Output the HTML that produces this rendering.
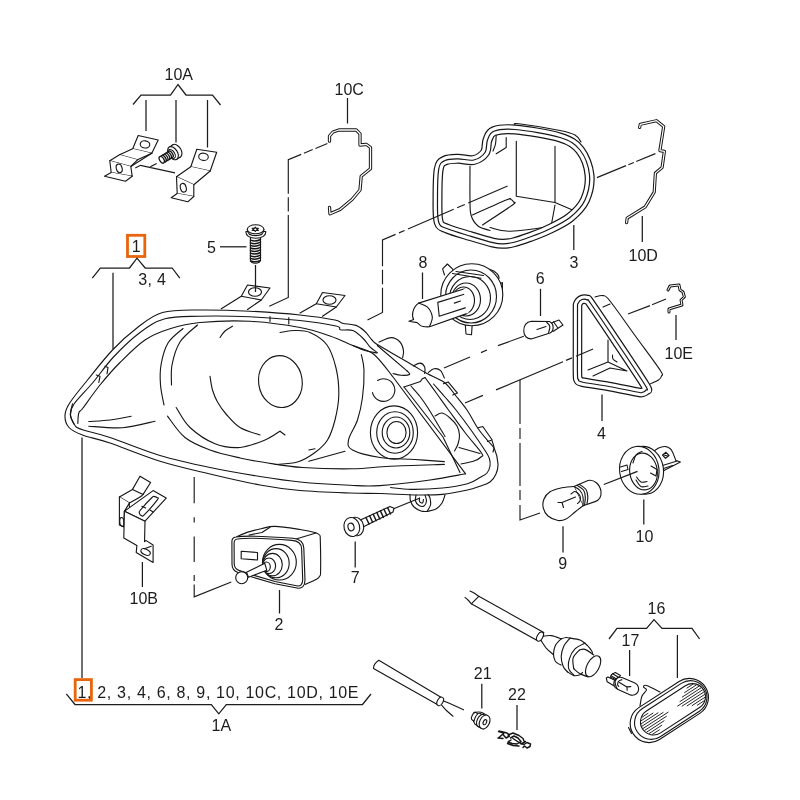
<!DOCTYPE html>
<html><head><meta charset="utf-8"><title>Headlight parts diagram</title>
<style>
html,body{margin:0;padding:0;background:#fff;}
body{width:800px;height:800px;overflow:hidden;}
svg{display:block;will-change:transform;}
text{font-family:"Liberation Sans",sans-serif;font-size:16px;fill:#1c1c1c;}
.p{fill:none;stroke:#161616;stroke-width:1.12;stroke-linecap:round;stroke-linejoin:round;}
.w{fill:#fff;stroke:#161616;stroke-width:1.12;stroke-linecap:round;stroke-linejoin:round;}
.l{fill:none;stroke:#1c1c1c;stroke-width:1.25;stroke-linecap:butt;stroke-linejoin:miter;}
.a{fill:none;stroke:#1c1c1c;stroke-width:1.15;}
.o{fill:none;stroke:#e8650d;stroke-width:2.8;}
</style></head><body>
<svg width="800" height="800" viewBox="0 0 800 800">
<rect width="800" height="800" fill="#fff"/>

<!-- LABELS -->
<g id="labels" style="opacity:0.999">
<text x="164.5" y="79.7">10A</text>
<text x="334.5" y="95.2">10C</text>
<text x="569.5" y="268">3</text>
<text x="628.5" y="261">10D</text>
<text x="664.5" y="358.5">10E</text>
<text x="418.5" y="267.8">8</text>
<text x="535.8" y="283.8">6</text>
<text x="597" y="439">4</text>
<text x="207" y="252.6">5</text>
<text x="131.7" y="252.3">1</text>
<text x="138.3" y="284.6" textLength="27.6" lengthAdjust="spacing">3, 4</text>
<text x="129.5" y="604.2">10B</text>
<text x="274.5" y="630">2</text>
<text x="350.8" y="583.2">7</text>
<text x="558.3" y="568.8">9</text>
<text x="635.5" y="541.8">10</text>
<text x="647.5" y="613.8">16</text>
<text x="621.5" y="646.2">17</text>
<text x="473.8" y="678.8">21</text>
<text x="508" y="699.6">22</text>
<text x="211.5" y="731.4">1A</text>
<text x="77.5" y="697.6" textLength="281" lengthAdjust="spacing">1, 2, 3, 4, 6, 8, 9, 10, 10C, 10D, 10E</text>
</g>

<!-- ORANGE BOXES -->
<rect class="o" x="127.5" y="235.3" width="17.3" height="21.2"/>
<rect class="o" x="75.2" y="679.6" width="16.2" height="20.6"/>

<!-- LEADERS & BRACES -->
<g id="leaders" class="l">
<path d="M133,104.5 L141,95 H170.5 L178,84.5 L186,95 H212.5 L220.5,105"/>
<path d="M146,100 V131 M176,100 V142.5 M207.5,100 V147.5"/>
<path d="M347.5,98 V123.5"/>
<path d="M573.8,225 V250"/>
<path d="M642.3,216 V242"/>
<path d="M676,315 V340"/>
<path d="M422.5,272.5 V299"/>
<path d="M540.5,288.8 V316"/>
<path d="M602,394.5 V421"/>
<path d="M220,246.8 H246.5"/>
<path d="M255.5,265 V292"/>
<path d="M92.3,278.2 L100.3,268 H129.5 L137,258.2 L145.2,268 H172.2 L179.8,278.2"/>
<path d="M113,272.8 V349"/>
<path d="M82,437.5 V678"/>
<path d="M142.4,562 V587"/>
<path d="M279.5,590 V613.5"/>
<path d="M355.2,541.6 V567.6"/>
<path d="M563,526.3 V552.5"/>
<path d="M643.8,499.5 V524.5"/>
<path d="M609,639 L617,628.4 H646.6 L654,619.6 L662,628.4 H692 L699.6,639"/>
<path d="M677.4,635 V678"/>
<path d="M629.6,650 V676"/>
<path d="M481.8,683.8 V708.5"/>
<path d="M517,705 V730"/>
<path d="M66.3,693.8 L75,704.5 H211.3 L218.8,713.8 L226.3,704.5 H362.5 L371,694"/>
<path d="M393,509 L420,498"/>
</g>

<!-- PARTS -->
<g id="parts">
<!-- headlight -->
<path class="w" d="M65.0,415.0 C65.2,410.8 66.2,408.3 70.0,402.5 C73.8,396.7 80.4,388.8 87.5,380.0 C94.6,371.2 104.2,358.8 112.5,350.0 C120.8,341.2 129.2,333.8 137.5,327.5 C145.8,321.2 152.1,315.4 162.5,312.5 C172.9,309.6 185.4,310.2 200.0,310.0 C214.6,309.8 233.3,310.4 250.0,311.2 C266.7,312.1 285.8,313.5 300.0,315.0 C314.2,316.5 327.9,318.6 335.0,320.0 C342.1,321.4 339.0,322.3 342.5,323.2 C346.0,324.1 352.2,324.0 356.0,325.4 C359.8,326.8 362.3,329.1 365.0,331.5 C367.7,333.9 369.7,337.7 372.0,340.0 C374.3,342.3 372.3,341.4 379.0,345.5 C385.7,349.6 404.0,360.1 412.0,364.8 C420.0,369.4 421.6,370.5 427.0,373.5 C432.4,376.5 439.6,378.8 444.4,382.5 C449.2,386.2 452.2,391.4 456.0,396.0 C459.8,400.6 463.3,404.6 467.0,410.0 C470.7,415.4 474.5,423.3 478.0,428.5 C481.5,433.7 485.2,437.6 488.0,441.0 C490.8,444.4 492.8,445.2 494.5,449.0 C496.2,452.8 497.8,459.8 498.0,464.0 C498.2,468.2 497.3,471.0 496.0,474.0 C494.7,477.0 492.7,480.0 490.0,482.0 C487.3,484.0 483.8,484.9 480.0,486.2 C476.2,487.5 473.8,488.6 467.5,490.0 C461.2,491.4 450.8,493.6 442.5,494.4 C434.2,495.2 427.9,495.1 417.5,495.0 C407.1,494.9 391.2,493.8 380.0,493.5 C368.8,493.2 363.3,493.5 350.0,493.0 C336.7,492.5 315.0,491.8 300.0,490.5 C285.0,489.2 275.0,487.8 260.0,485.0 C245.0,482.2 226.7,478.0 210.0,474.0 C193.3,470.0 176.7,466.4 160.0,461.2 C143.3,456.1 122.9,447.4 110.0,443.0 C97.1,438.6 89.3,437.6 82.5,435.0 C75.7,432.4 71.9,430.8 69.0,427.5 C66.1,424.2 64.8,419.2 65.0,415.0Z"/>
<path class="p" d="M73.8,423.5 C73.2,422.1 70.5,418.2 70.5,415.0 C70.5,411.8 70.3,409.3 74.0,404.0 C77.7,398.7 85.9,390.8 92.5,383.0 C99.1,375.2 105.6,365.4 113.5,357.0 C121.4,348.6 131.4,338.9 140.0,332.5 C148.6,326.1 155.0,321.5 165.0,318.8 C175.0,316.0 185.8,316.6 200.0,316.2 C214.2,315.9 233.3,316.1 250.0,316.8 C266.7,317.5 285.7,319.0 300.0,320.5 C314.3,322.0 329.2,324.5 336.0,326.0 C342.8,327.5 337.7,329.0 340.5,329.8 C343.3,330.5 349.0,329.1 352.8,330.6 C356.5,332.1 360.3,335.7 363.2,338.5 C366.2,341.3 367.9,344.9 370.2,347.2 C372.6,349.6 376.1,351.6 377.2,352.5"/>
<path class="p" d="M73.8,423.5 C74.3,424.2 75.1,426.3 77.0,427.5 C78.9,428.7 79.5,428.8 85.0,430.5 C90.5,432.2 97.5,433.3 110.0,437.5 C122.5,441.7 143.3,450.5 160.0,455.5 C176.7,460.5 193.3,464.0 210.0,467.5 C226.7,471.0 245.0,474.1 260.0,476.5 C275.0,478.9 285.0,480.5 300.0,482.0 C315.0,483.5 336.7,484.7 350.0,485.3 C363.3,485.9 366.7,486.5 380.0,485.6 C393.3,484.7 415.7,482.0 430.0,480.0 C444.3,478.0 459.7,474.8 465.6,473.8"/>
<path class="p" d="M390.6,487.5 C394.0,487.8 402.4,489.3 411.0,489.4 C419.6,489.5 433.1,488.9 442.5,488.0 C451.9,487.1 461.2,485.5 467.5,483.8 C473.8,482.0 476.8,479.3 480.0,477.5 C483.2,475.7 485.3,474.9 487.0,473.0 C488.7,471.1 489.6,468.3 490.0,466.0 C490.4,463.7 490.2,461.3 489.5,459.0 C488.8,456.7 489.1,456.8 486.0,452.0 C482.9,447.2 476.0,437.0 471.0,430.0 C466.0,423.0 460.4,415.6 456.0,410.0 C451.6,404.4 448.2,400.8 444.5,396.5 C440.8,392.2 435.3,386.1 433.5,384.0"/>
<path class="p" d="M77.8,423.5 C78.0,421.8 77.9,415.6 78.8,413.0 C79.6,410.4 79.5,412.7 83.0,408.0 C86.5,403.3 93.8,392.6 100.0,385.0 C106.2,377.4 112.5,370.0 120.0,362.5 C127.5,355.0 136.7,345.6 145.0,340.0 C153.3,334.4 160.8,331.7 170.0,328.8 C179.2,325.8 186.7,323.7 200.0,322.5 C213.3,321.3 233.3,320.5 250.0,321.3 C266.7,322.1 286.7,325.1 300.0,327.5 C313.3,329.9 321.2,333.0 330.0,336.0 C338.8,339.0 345.5,342.5 352.8,345.5 C360.0,348.5 366.9,348.8 373.8,354.2 C380.6,359.7 390.4,374.0 393.8,378.0 L465.6,473.8"/>
<path class="p" d="M72.5,403.8 C72.1,405.6 70.1,411.7 70.3,415.0 C70.5,418.3 73.2,422.3 73.8,423.8"/>
<path class="p" d="M96.3,375.0 L100.0,376.3 L98.8,382.5"/>
<path class="p" d="M105.0,366.3 L108.0,367.5 L107.0,373.8"/>
<path class="p" d="M270,316.5 V321.5 M288.8,317.6 V324"/>
<path class="p" d="M88.8,421.5 C92.3,421.2 102.9,420.9 110.0,420.0 C117.1,419.1 127.7,416.9 131.2,416.2"/>
<path class="p" d="M88.8,426.2 C94.4,426.5 111.5,428.5 122.5,427.7 C133.5,426.9 149.6,422.3 155.0,421.2"/>
<path class="p" d="M183.0,328.5 C180.5,330.9 171.7,336.9 168.0,343.0 C164.3,349.1 162.2,358.0 161.0,365.0 C159.8,372.0 160.0,378.3 160.5,385.0 C161.0,391.7 163.4,401.7 164.0,405.0"/>
<path class="p" d="M197.5,325.0 C194.6,327.8 184.2,335.3 180.0,342.0 C175.8,348.7 173.4,357.8 172.0,365.0 C170.6,372.2 171.6,381.7 171.5,385.0"/>
<path class="p" d="M167.5,416.2 C170.4,419.8 177.9,431.9 185.0,437.5 C192.1,443.1 200.8,446.6 210.0,450.0 C219.2,453.4 230.8,455.9 240.0,458.0 C249.2,460.1 254.6,460.9 265.0,462.5 C275.4,464.1 287.9,466.5 302.5,467.5 C317.1,468.5 337.9,469.0 352.5,468.8 C367.1,468.5 374.7,467.0 390.0,466.2 C405.3,465.5 435.3,464.7 444.4,464.4"/>
<path class="p" d="M176.2,407.5 C178.5,410.8 183.5,421.5 190.0,427.5 C196.5,433.5 206.7,440.4 215.0,443.8 C223.3,447.1 231.7,448.1 240.0,447.5 C248.3,446.9 258.3,442.7 265.0,440.0 C271.7,437.3 277.5,432.7 280.0,431.2"/>
<path class="p" d="M280,431.3 L285,435"/>
<path class="p" d="M280.0,332.5 C282.5,332.2 290.0,330.5 295.0,330.5 C300.0,330.5 304.7,330.1 310.0,332.5 C315.3,334.9 322.7,339.1 327.0,345.0 C331.3,350.9 334.0,359.7 336.0,368.0 C338.0,376.3 339.0,386.3 338.8,395.0 C338.6,403.7 336.9,412.5 335.0,420.0 C333.1,427.5 330.8,434.6 327.5,440.0 C324.2,445.4 320.0,448.8 315.0,452.5 C310.0,456.2 304.2,460.0 297.5,462.0 C290.8,464.0 278.8,464.1 275.0,464.5"/>
<path class="p" d="M210.0,376.2 C210.4,378.5 211.2,385.7 212.5,390.0 C213.8,394.3 215.2,398.0 217.5,402.0 C219.8,406.0 222.2,409.8 226.0,414.0 C229.8,418.2 234.3,424.0 240.0,427.5 C245.7,431.0 256.7,433.8 260.0,435.0"/>
<path class="p" d="M220.0,337.5 C220.8,336.4 222.9,332.9 225.0,331.0 C227.1,329.1 231.2,327.0 232.5,326.2"/>
<path class="p" d="M308.8,461.3 L345,451.3 M308.8,450 L315,448.8"/>
<ellipse class="p" cx="280.4" cy="381.6" rx="21.8" ry="26" transform="rotate(-8 280.4 381.6)"/>
<path class="p" d="M361.3,354.5 C361.8,357.1 363.8,362.8 364.0,370.0 C364.2,377.2 363.5,389.7 362.4,398.0 C361.3,406.3 359.8,413.0 357.5,420.0 C355.2,427.0 349.3,435.0 348.5,440.0 C347.7,445.0 347.2,447.1 352.5,450.0 C357.8,452.9 369.6,455.9 380.0,457.5 C390.4,459.1 404.3,458.8 415.0,459.5 C425.7,460.2 439.5,461.2 444.4,461.6"/>
<path class="p" d="M377.5,380.5 A11.3,11.3 0 1 1 372.5,392.6"/>
<ellipse class="p" cx="394" cy="432.5" rx="23.6" ry="26.6"/>
<ellipse class="p" cx="395" cy="432.5" rx="18.3" ry="20.7"/>
<ellipse class="p" cx="396" cy="432.5" rx="13.8" ry="15.5"/>
<ellipse class="p" cx="396.5" cy="432.5" rx="9.6" ry="11"/>
<path class="p" d="M352.8,345.5 C354.8,346.3 360.9,349.2 365.0,350.5 C369.1,351.8 375.2,352.6 377.2,353.0"/>
<path class="p" d="M377.3,345.5 L407,370.9"/>
<path class="p" d="M407.0,370.9 C407.4,371.5 410.5,373.8 409.5,374.5 C408.5,375.2 403.8,375.5 401.0,375.3 C398.2,375.1 394.3,373.8 393.0,373.5"/>
<path class="p" d="M379.0,342.0 C381.0,341.3 387.8,337.6 391.2,337.6 C394.8,337.6 398.0,339.8 400.0,342.0 C402.0,344.2 403.1,348.1 403.5,350.8 C403.9,353.4 402.8,356.6 402.6,357.8"/>
<path class="p" d="M413.4,366.0 C414.5,365.5 418.1,363.0 420.0,363.1 C421.9,363.2 423.9,365.2 424.7,366.9 C425.5,368.6 424.7,372.3 424.7,373.4"/>
<path class="p" d="M428.4,372.5 C429.3,371.9 432.0,369.1 434.0,368.8 C436.0,368.4 438.9,369.0 440.6,370.6 C442.3,372.2 443.8,376.9 444.4,378.1"/>
<path class="p" d="M443.4,383.8 L448.1,381.9 L457.5,393.1 L452.8,395.0"/>
<path class="p" d="M478.1,427.8 L482.8,426.5 L492.2,440.0 L487.5,441.5"/>
<path class="p" d="M492.2,441.0 C492.5,442.1 493.9,445.7 494.0,447.5 C494.1,449.3 493.2,451.2 493.0,452.0"/>
<path class="p" d="M221.3,308.8 L241.3,296.3 L247.5,285.0 L270.0,288.0 L261.3,300.0 L247.5,309.5"/>
<path class="p" d="M241.3,296.3 L261.3,300"/>
<ellipse class="p" cx="255" cy="292" rx="6.5" ry="4.3"/>
<path class="p" d="M300.0,313.0 L316.3,303.8 L322.5,292.5 L345.0,295.5 L336.3,307.0 L322.5,316.3"/>
<path class="p" d="M316.3,303.8 L336.3,307"/>
<ellipse class="p" cx="329.5" cy="300" rx="6.5" ry="4.3"/>
<path class="p" d="M404,387 L420.5,381.5 L422,379 L425,377.5"/>
<path class="p" d="M404,387 L443,437 L460,472.5"/>
<path class="p" d="M411.0,386.0 C412.5,387.8 417.2,392.8 420.0,396.5 C422.8,400.2 425.2,403.6 428.0,408.0 C430.8,412.4 434.2,418.2 437.0,423.0 C439.8,427.8 443.7,434.2 445.0,436.5"/>
<path class="p" d="M425.0,377.5 C427.0,380.2 433.1,388.6 437.0,394.0 C440.9,399.4 443.8,403.6 448.5,410.0 C453.2,416.4 459.5,425.3 465.0,432.5 C470.5,439.7 478.8,448.9 481.5,453.0 C484.2,457.1 482.2,455.7 481.0,457.0 C479.8,458.3 477.3,459.8 474.0,461.0 C470.7,462.2 463.2,463.5 461.0,464.0"/>
<path class="p" d="M435.0,416.0 C436.2,415.5 439.5,412.7 442.0,413.0 C444.5,413.3 447.5,415.8 450.0,418.0 C452.5,420.2 455.4,423.2 457.0,426.0 C458.6,428.8 459.3,432.0 459.5,435.0 C459.7,438.0 458.8,441.3 458.0,444.0 C457.2,446.7 455.1,449.8 454.5,451.0"/>
<path class="p" d="M459,447.5 L480,453.5"/>
<path class="p" d="M410.0,494.5 C410.1,495.6 409.8,498.9 410.5,501.0 C411.2,503.1 412.2,505.3 414.0,507.0 C415.8,508.7 418.8,510.2 421.0,511.0 C423.2,511.8 426.0,511.4 427.0,511.5"/>
<path class="p" d="M427.0,511.5 C427.6,510.4 430.0,507.2 430.5,505.0 C431.0,502.8 430.4,499.8 430.0,498.0 C429.6,496.2 428.3,495.1 428.0,494.5"/>
<path class="p" d="M416.0,495.0 C415.9,496.0 415.0,499.2 415.5,501.0 C416.0,502.8 417.6,504.7 419.0,505.5 C420.4,506.3 422.8,506.8 424.0,506.0 C425.2,505.2 426.3,502.8 426.5,501.0 C426.7,499.2 425.2,496.0 425.0,495.0"/>
<path class="p" d="M419.5,498.0 C419.5,498.6 419.0,500.7 419.5,501.5 C420.0,502.3 421.8,503.3 422.5,503.0 C423.2,502.7 423.3,500.1 423.5,499.5"/>
<path class="p" d="M427.0,511.5 C428.5,511.1 433.5,510.4 436.0,509.0 C438.5,507.6 440.5,505.3 442.0,503.0 C443.5,500.7 444.5,496.3 445.0,495.0"/>
<!-- 10A -->
<path class="w" d="M138.2,135.5 L158.2,140.0 L151.8,153.3 L132.7,148.8Z"/>
<ellipse class="p" cx="145" cy="144.4" rx="4.8" ry="3.6" transform="rotate(10 145 144.4)"/>
<path class="w" d="M132.7,148.8 L119.5,154.8 L137.5,159.8 L151.8,153.3"/>
<path class="w" d="M119.5,154.8 L109.8,160.8 L130.8,166.5 L137.5,159.8"/>
<path class="p" d="M151.8,153.3 L130.8,166.5"/>
<path class="w" d="M109.8,160.8 L111.2,172.5 L132.2,176.2 L130.8,166.5"/>
<ellipse class="p" cx="119.2" cy="168.4" rx="2.9" ry="4.4" transform="rotate(-15 119.2 168.4)"/>
<path class="w" d="M111.2,172.5 L104.5,176.2 L125.5,181.2 L132.2,176.2"/>
<path class="w" d="M196.8,149.2 L216.7,152.2 L210.2,171.0 L190.8,166.8Z"/>
<ellipse class="p" cx="203.5" cy="156.8" rx="4.8" ry="3.6" transform="rotate(8 203.5 156.8)"/>
<path class="w" d="M190.8,166.8 L176.5,176.7 L193.8,184.8 L210.2,171.0"/>
<path class="w" d="M176.5,176.7 L177.2,193.5 L193.8,196.5 L193.8,184.8"/>
<ellipse class="p" cx="183.3" cy="187.8" rx="2.9" ry="4.4" transform="rotate(-15 183.3 187.8)"/>
<path class="w" d="M177.2,193.5 L171.2,197.7 L187.8,201.8 L193.8,196.5"/>
<ellipse class="w" cx="176.6" cy="150.9" rx="4.5" ry="7.2" transform="rotate(-31.6 176.6 150.9)"/>
<path class="w" d="M172.8,144.8 L169.2,147.1 L176.8,159.3 L180.4,157.0Z"/>
<path d="M173.2,145.4 L180.0,156.4" stroke="#fff" stroke-width="1.6" fill="none"/>
<ellipse class="w" cx="173" cy="153.2" rx="4.5" ry="7.2" transform="rotate(-31.6 173 153.2)"/>
<ellipse class="p" cx="171.6" cy="154.1" rx="3.1" ry="5" transform="rotate(-31.6 171.6 154.1)"/>
<ellipse cx="170.6" cy="154.4" rx="2.1" ry="3.7" transform="rotate(-31.6 170.6 154.4)" fill="#fff" stroke="#161616" stroke-width="1.3"/>
<ellipse cx="168.8" cy="155.5" rx="2.1" ry="3.7" transform="rotate(-31.6 168.8 155.5)" fill="#fff" stroke="#161616" stroke-width="1.3"/>
<ellipse cx="167.1" cy="156.6" rx="2.1" ry="3.7" transform="rotate(-31.6 167.1 156.6)" fill="#fff" stroke="#161616" stroke-width="1.3"/>
<ellipse cx="165.3" cy="157.6" rx="2.1" ry="3.7" transform="rotate(-31.6 165.3 157.6)" fill="#fff" stroke="#161616" stroke-width="1.3"/>
<ellipse cx="163.6" cy="158.7" rx="2.1" ry="3.7" transform="rotate(-31.6 163.6 158.7)" fill="#fff" stroke="#161616" stroke-width="1.3"/>
<ellipse cx="161.8" cy="159.8" rx="2.1" ry="3.7" transform="rotate(-31.6 161.8 159.8)" fill="#fff" stroke="#161616" stroke-width="1.3"/>
<!-- 10C -->
<path d="M329.5,141.2 L329.5,136.0 L333.0,132.0 L338.8,130.0 L356.2,130.0 L360.0,133.8 L360.0,145.0 L366.2,144.3 L370.5,147.5 L370.5,168.8 L361.2,176.2 L360.0,190.0 L352.0,199.5 L340.0,209.5 L330.0,213.8 L329.5,207.5" fill="none" stroke="#161616" stroke-width="3.3" stroke-linecap="round" stroke-linejoin="round"/>
<path d="M329.5,141.2 L329.5,136.0 L333.0,132.0 L338.8,130.0 L356.2,130.0 L360.0,133.8 L360.0,145.0 L366.2,144.3 L370.5,147.5 L370.5,168.8 L361.2,176.2 L360.0,190.0 L352.0,199.5 L340.0,209.5 L330.0,213.8 L329.5,207.5" fill="none" stroke="#fff" stroke-width="1.3" stroke-linecap="round" stroke-linejoin="round"/>
<!-- 10D -->
<path d="M639.6,127.5 L640.3,124.3 L656.5,120.7 L663.7,126.5 L659.9,150.6 L664.4,151.3 L662.1,167.5 L655.4,173.1 L654.2,192.2 L645.2,206.9 L627.2,218.1 L626.6,222.6" fill="none" stroke="#161616" stroke-width="3.2" stroke-linecap="round" stroke-linejoin="round"/>
<path d="M639.6,127.5 L640.3,124.3 L656.5,120.7 L663.7,126.5 L659.9,150.6 L664.4,151.3 L662.1,167.5 L655.4,173.1 L654.2,192.2 L645.2,206.9 L627.2,218.1 L626.6,222.6" fill="none" stroke="#fff" stroke-width="1.2" stroke-linecap="round" stroke-linejoin="round"/>
<!-- 10E -->
<path d="M669.0,312.0 L669.0,309.0 L672.0,308.0 L682.0,305.0 L681.0,300.0 L684.4,297.0 L683.0,292.0 L680.0,290.0 L679.0,285.0 L670.0,286.0 L668.0,290.0" fill="none" stroke="#161616" stroke-width="3" stroke-linecap="round" stroke-linejoin="round"/>
<path d="M669.0,312.0 L669.0,309.0 L672.0,308.0 L682.0,305.0 L681.0,300.0 L684.4,297.0 L683.0,292.0 L680.0,290.0 L679.0,285.0 L670.0,286.0 L668.0,290.0" fill="none" stroke="#fff" stroke-width="1" stroke-linecap="round" stroke-linejoin="round"/>
<!-- screw5 -->
<path class="w" d="M250.4,236.5 V259.8 C250.6,262.2 252.5,263.2 255.4,263.2 C258.4,263.2 260.3,262.2 260.5,259.8 V236.5Z"/>
<path class="p" style="stroke-width:1.45" d="M250.4,240.2 Q255.5,242.2 260.5,239.5 M250.4,242.8 Q255.5,244.8 260.5,242.1 M250.4,245.4 Q255.5,247.4 260.5,244.7 M250.4,248.0 Q255.5,250.0 260.5,247.3 M250.4,250.6 Q255.5,252.6 260.5,249.9 M250.4,253.2 Q255.5,255.2 260.5,252.5 M250.4,255.8 Q255.5,257.8 260.5,255.1 M250.4,258.4 Q255.5,260.4 260.5,257.7 M250.4,261.0 Q255.5,263.0 260.5,260.3"/>
<path class="w" d="M245.9,231.5 C245.6,235.5 249.5,238.3 255.8,238.3 C262.2,238.3 266,235.5 265.8,231.5Z"/>
<path class="w" d="M247.3,229.4 C247.3,233.2 250.5,235.6 255.6,235.6 C260.8,235.6 263.9,233.2 263.9,229.4"/>
<ellipse class="w" cx="255.6" cy="229.3" rx="8.3" ry="4.5"/>
<path class="p" d="M255.3,227.1 L256.2,228.4 L258.4,228.2 L257.0,229.3 L258.4,230.4 L256.2,230.2 L255.3,231.5 L254.4,230.2 L252.2,230.4 L253.6,229.3 L252.2,228.2 L254.4,228.4Z"/>
<!-- cover3 -->
<path class="p" d="M515.0,125.0 C515.6,124.8 511.2,122.8 518.8,123.8 C526.2,124.7 550.6,128.6 560.0,130.5 C569.4,132.4 571.5,133.1 575.0,135.0 C578.5,136.9 580.0,140.8 581.0,142.0"/>
<path d="M438.8,168.8 C440.0,162.2 441.8,162.2 445.0,160.5 C448.2,158.8 453.2,158.9 458.0,158.8 C462.8,158.7 469.2,161.1 473.8,160.0 C478.2,158.9 482.7,155.8 485.0,152.5 C487.3,149.2 486.0,143.5 487.5,140.0 C489.0,136.5 489.2,133.0 493.8,131.2 C498.3,129.5 504.0,128.5 515.0,129.5 C526.0,130.5 549.2,134.1 560.0,137.5 C570.8,140.9 575.1,143.8 580.0,150.0 C584.9,156.2 588.7,166.7 589.5,175.0 C590.3,183.3 588.2,192.9 585.0,200.0 C581.8,207.1 576.2,212.5 570.0,217.5 C563.8,222.5 554.2,226.8 547.5,230.0 C540.8,233.2 535.8,234.9 530.0,237.0 C524.2,239.1 517.5,241.4 513.0,242.5 C508.5,243.6 506.3,243.8 503.0,243.8 C499.7,243.8 498.5,243.9 493.0,242.6 C487.5,241.3 477.6,238.3 470.0,236.0 C462.4,233.7 452.7,231.0 447.5,228.8 C442.3,226.5 440.4,227.3 438.8,222.5 C437.1,217.7 437.5,209.0 437.5,200.0 C437.5,191.0 437.5,175.3 438.8,168.8Z" fill="#fff" stroke="none"/>
<path class="p" d="M470.0,166.2 C470.0,171.9 469.8,191.9 470.0,200.0 C470.2,208.1 469.7,210.7 471.0,215.0 C472.3,219.3 474.8,223.4 478.0,226.0 C481.2,228.6 488.0,229.8 490.0,230.5"/>
<path class="p" d="M516.3,141.3 V196.3 L555,202.5 V146.3 M555,202.5 L572.5,210 M555,205 L551.3,225"/>
<path class="p" d="M490.0,227.5 C493.3,228.1 500.0,231.5 510.0,231.2 C520.0,231.0 539.6,228.1 550.0,226.2 C560.4,224.4 568.8,221.0 572.5,220.0"/>
<path class="p" d="M472.5,215.0 C478.1,212.5 499.8,202.6 506.2,200.0 C512.7,197.4 509.8,199.2 511.0,199.5 C512.2,199.8 513.2,201.1 513.5,202.0 C513.8,202.9 517.7,201.2 512.5,205.0 C507.3,208.8 487.5,221.7 482.5,225.0"/>
<path class="p" d="M506.2,137.5 L506.2,147.5 L496.2,153.8"/>
<path class="p" d="M496.2,135.0 C496.1,136.5 496.0,141.3 495.5,144.0 C495.0,146.7 493.4,149.8 493.0,151.0"/>
<path d="M438.8,168.8 C440.0,162.2 441.8,162.2 445.0,160.5 C448.2,158.8 453.2,158.9 458.0,158.8 C462.8,158.7 469.2,161.1 473.8,160.0 C478.2,158.9 482.7,155.8 485.0,152.5 C487.3,149.2 486.0,143.5 487.5,140.0 C489.0,136.5 489.2,133.0 493.8,131.2 C498.3,129.5 504.0,128.5 515.0,129.5 C526.0,130.5 549.2,134.1 560.0,137.5 C570.8,140.9 575.1,143.8 580.0,150.0 C584.9,156.2 588.7,166.7 589.5,175.0 C590.3,183.3 588.2,192.9 585.0,200.0 C581.8,207.1 576.2,212.5 570.0,217.5 C563.8,222.5 554.2,226.8 547.5,230.0 C540.8,233.2 535.8,234.9 530.0,237.0 C524.2,239.1 517.5,241.4 513.0,242.5 C508.5,243.6 506.3,243.8 503.0,243.8 C499.7,243.8 498.5,243.9 493.0,242.6 C487.5,241.3 477.6,238.3 470.0,236.0 C462.4,233.7 452.7,231.0 447.5,228.8 C442.3,226.5 440.4,227.3 438.8,222.5 C437.1,217.7 437.5,209.0 437.5,200.0 C437.5,191.0 437.5,175.3 438.8,168.8Z" fill="none" stroke="#161616" stroke-width="10" stroke-linejoin="round"/>
<path d="M438.8,168.8 C440.0,162.2 441.8,162.2 445.0,160.5 C448.2,158.8 453.2,158.9 458.0,158.8 C462.8,158.7 469.2,161.1 473.8,160.0 C478.2,158.9 482.7,155.8 485.0,152.5 C487.3,149.2 486.0,143.5 487.5,140.0 C489.0,136.5 489.2,133.0 493.8,131.2 C498.3,129.5 504.0,128.5 515.0,129.5 C526.0,130.5 549.2,134.1 560.0,137.5 C570.8,140.9 575.1,143.8 580.0,150.0 C584.9,156.2 588.7,166.7 589.5,175.0 C590.3,183.3 588.2,192.9 585.0,200.0 C581.8,207.1 576.2,212.5 570.0,217.5 C563.8,222.5 554.2,226.8 547.5,230.0 C540.8,233.2 535.8,234.9 530.0,237.0 C524.2,239.1 517.5,241.4 513.0,242.5 C508.5,243.6 506.3,243.8 503.0,243.8 C499.7,243.8 498.5,243.9 493.0,242.6 C487.5,241.3 477.6,238.3 470.0,236.0 C462.4,233.7 452.7,231.0 447.5,228.8 C442.3,226.5 440.4,227.3 438.8,222.5 C437.1,217.7 437.5,209.0 437.5,200.0 C437.5,191.0 437.5,175.3 438.8,168.8Z" fill="none" stroke="#fff" stroke-width="7.6" stroke-linejoin="round"/>
<path d="M438.8,168.8 C440.0,162.2 441.8,162.2 445.0,160.5 C448.2,158.8 453.2,158.9 458.0,158.8 C462.8,158.7 469.2,161.1 473.8,160.0 C478.2,158.9 482.7,155.8 485.0,152.5 C487.3,149.2 486.0,143.5 487.5,140.0 C489.0,136.5 489.2,133.0 493.8,131.2 C498.3,129.5 504.0,128.5 515.0,129.5 C526.0,130.5 549.2,134.1 560.0,137.5 C570.8,140.9 575.1,143.8 580.0,150.0 C584.9,156.2 588.7,166.7 589.5,175.0 C590.3,183.3 588.2,192.9 585.0,200.0 C581.8,207.1 576.2,212.5 570.0,217.5 C563.8,222.5 554.2,226.8 547.5,230.0 C540.8,233.2 535.8,234.9 530.0,237.0 C524.2,239.1 517.5,241.4 513.0,242.5 C508.5,243.6 506.3,243.8 503.0,243.8 C499.7,243.8 498.5,243.9 493.0,242.6 C487.5,241.3 477.6,238.3 470.0,236.0 C462.4,233.7 452.7,231.0 447.5,228.8 C442.3,226.5 440.4,227.3 438.8,222.5 C437.1,217.7 437.5,209.0 437.5,200.0 C437.5,191.0 437.5,175.3 438.8,168.8Z" fill="none" stroke="#161616" stroke-width="1.2" stroke-linejoin="round"/>
<!-- tri4 -->
<path class="w" d="M595.0,297.0 C596.3,296.8 600.5,294.9 603.0,295.6 C605.5,296.3 604.7,294.4 610.0,301.0 C615.3,307.6 626.7,324.0 635.0,335.5 C643.3,347.0 655.6,363.2 660.0,370.0 C664.4,376.8 661.8,374.3 661.5,376.0 C661.2,377.7 660.4,378.7 658.5,380.0 C656.6,381.3 651.4,383.3 650.0,384.0"/>
<path class="p" d="M603,307 L610,304"/>
<path d="M577.5,310.0 C577.6,303.4 577.2,305.2 578.0,303.5 C578.8,301.8 580.4,300.1 582.0,299.5 C583.6,298.9 586.0,299.2 587.5,300.0 C589.0,300.8 585.9,296.7 591.0,304.0 C596.1,311.3 609.0,330.5 618.0,344.0 C627.0,357.5 640.3,377.3 645.0,385.0 C649.7,392.7 646.5,388.8 646.0,390.0 C645.5,391.2 643.5,392.2 642.0,392.5 C640.5,392.8 642.5,393.0 637.0,392.0 C631.5,391.0 618.2,388.2 609.0,386.5 C599.8,384.8 587.1,383.2 582.0,382.0 C576.9,380.8 579.2,380.7 578.5,379.5 C577.8,378.3 577.7,381.1 577.5,375.0 C577.3,368.9 577.5,353.8 577.5,343.0 C577.5,332.2 577.4,316.6 577.5,310.0Z" fill="#fff" stroke="none"/>
<path class="p" d="M608,340 V362 L588,370 M608,362 L627,371 M610,368 L593,376 M610,368 L627,371"/>
<path class="p" d="M612.5,355.0 C612.6,355.7 612.2,357.8 613.0,359.0 C613.8,360.2 616.3,361.5 617.0,362.0"/>
<path d="M577.5,310.0 C577.6,303.4 577.2,305.2 578.0,303.5 C578.8,301.8 580.4,300.1 582.0,299.5 C583.6,298.9 586.0,299.2 587.5,300.0 C589.0,300.8 585.9,296.7 591.0,304.0 C596.1,311.3 609.0,330.5 618.0,344.0 C627.0,357.5 640.3,377.3 645.0,385.0 C649.7,392.7 646.5,388.8 646.0,390.0 C645.5,391.2 643.5,392.2 642.0,392.5 C640.5,392.8 642.5,393.0 637.0,392.0 C631.5,391.0 618.2,388.2 609.0,386.5 C599.8,384.8 587.1,383.2 582.0,382.0 C576.9,380.8 579.2,380.7 578.5,379.5 C577.8,378.3 577.7,381.1 577.5,375.0 C577.3,368.9 577.5,353.8 577.5,343.0 C577.5,332.2 577.4,316.6 577.5,310.0Z" fill="none" stroke="#161616" stroke-width="9.6" stroke-linejoin="round"/>
<path d="M577.5,310.0 C577.6,303.4 577.2,305.2 578.0,303.5 C578.8,301.8 580.4,300.1 582.0,299.5 C583.6,298.9 586.0,299.2 587.5,300.0 C589.0,300.8 585.9,296.7 591.0,304.0 C596.1,311.3 609.0,330.5 618.0,344.0 C627.0,357.5 640.3,377.3 645.0,385.0 C649.7,392.7 646.5,388.8 646.0,390.0 C645.5,391.2 643.5,392.2 642.0,392.5 C640.5,392.8 642.5,393.0 637.0,392.0 C631.5,391.0 618.2,388.2 609.0,386.5 C599.8,384.8 587.1,383.2 582.0,382.0 C576.9,380.8 579.2,380.7 578.5,379.5 C577.8,378.3 577.7,381.1 577.5,375.0 C577.3,368.9 577.5,353.8 577.5,343.0 C577.5,332.2 577.4,316.6 577.5,310.0Z" fill="none" stroke="#fff" stroke-width="7.2" stroke-linejoin="round"/>
<path d="M577.5,310.0 C577.6,303.4 577.2,305.2 578.0,303.5 C578.8,301.8 580.4,300.1 582.0,299.5 C583.6,298.9 586.0,299.2 587.5,300.0 C589.0,300.8 585.9,296.7 591.0,304.0 C596.1,311.3 609.0,330.5 618.0,344.0 C627.0,357.5 640.3,377.3 645.0,385.0 C649.7,392.7 646.5,388.8 646.0,390.0 C645.5,391.2 643.5,392.2 642.0,392.5 C640.5,392.8 642.5,393.0 637.0,392.0 C631.5,391.0 618.2,388.2 609.0,386.5 C599.8,384.8 587.1,383.2 582.0,382.0 C576.9,380.8 579.2,380.7 578.5,379.5 C577.8,378.3 577.7,381.1 577.5,375.0 C577.3,368.9 577.5,353.8 577.5,343.0 C577.5,332.2 577.4,316.6 577.5,310.0Z" fill="none" stroke="#161616" stroke-width="1.2" stroke-linejoin="round"/>
<!-- bulb8 -->
<path class="w" d="M444.5,275.0 L442.6,268.8 L447.4,264.0 L452.9,269.4 L452.5,272.0"/>
<path class="w" d="M481.0,268.0 C482.5,268.2 487.5,268.7 490.0,269.5 C492.5,270.3 494.8,271.4 496.2,272.9 C497.8,274.4 499.2,277.1 499.0,278.4 C498.8,279.6 495.6,280.1 494.9,280.4"/>
<path class="w" d="M499.0,283.9 L502.4,282.5 L502.4,294.9 L500.4,296.2"/>
<path class="w" d="M465.3,324.5 L466.0,334.0 L471.5,334.8 L472.2,324.6"/>
<ellipse class="w" cx="471.8" cy="294.8" rx="31" ry="31"/>
<ellipse class="p" cx="471" cy="296.5" rx="25.5" ry="26.5"/>
<ellipse class="p" cx="470" cy="298" rx="20.5" ry="21.5"/>
<path class="p" d="M452.5,273.5 L481,278.3 M456,271.5 L483.5,275.5"/>
<ellipse class="w" cx="466" cy="299.5" rx="14.5" ry="16.5"/>
<ellipse class="p" cx="463.5" cy="300.5" rx="11" ry="13.5"/>
<path class="w" d="M418.6,303.1 L464.6,288.7 L467.4,313.4 L429.6,326.8 C425,327 422,326.6 420.6,325.6 L417.2,322.6 L408.9,321.2 L413.6,319.4 C411.6,316 412,308 418.6,303.1Z"/>
<path class="p" d="M418.6,303.1 C420.1,303.8 425.2,304.9 427.5,307.2 C429.8,309.6 431.9,313.7 432.3,316.9 C432.7,320.1 430.1,324.9 429.6,326.5"/>
<path class="p" d="M437.8,302.4 L465,294 M439.2,316.2 L466,307.6 M437.8,302.4 L439.2,316.2 M454.3,303.1 L460.5,301"/>
<path d="M464.6,288.7 L467.4,313.4" stroke="#fff" stroke-width="2.2" fill="none"/>
<!-- bulb6 -->
<path class="w" d="M550.0,323.5 L559.0,320.0 L563.0,325.0 L553.0,331.5"/>
<path class="p" d="M553.5,321.8 L557.5,327.5"/>
<path class="w" d="M549.5,321.5 L531.5,321.2 C525,322 523.6,327 523.8,331.5 C524,336 527,339.2 532,338.8 L550,333 C554,331 554.5,324 549.5,321.5Z"/>
<path class="p" d="M546.5,322.0 C547.0,322.8 549.5,324.7 549.8,326.5 C550.1,328.3 548.7,331.9 548.5,333.0"/>
<path class="p" d="M537,329.5 L546,326.5"/>
<!-- 10B -->
<path class="w" d="M140.0,476.2 L150.6,482.5 L143.1,494.4 L132.5,489.4Z"/>
<path class="w" d="M132.5,489.4 L119.4,496.9 L129.4,503.1"/>
<path class="p" d="M143.1,494.4 C142.6,494.8 142.3,495.6 140.0,497.0 C137.7,498.4 131.2,502.1 129.4,503.1"/>
<path class="w" d="M119.4,496.9 L119.4,525.0 L123.8,526.9 L124.4,511.2 L129.4,503.1"/>
<path class="p" d="M120.0,518.8 C120.3,517.8 121.3,517.3 121.9,517.5 C122.5,517.7 123.4,518.8 123.8,520.0 C124.1,521.2 124.1,524.0 123.8,525.0 C123.4,526.0 122.5,526.4 121.9,526.2 C121.3,526.0 120.3,525.0 120.0,523.8 C119.7,522.6 119.7,519.8 120.0,518.8Z"/>
<path class="p" d="M129.4,503.1 C129.5,503.8 128.6,507.0 130.0,507.5 C131.4,508.0 135.8,507.5 138.1,506.2 C140.4,505.0 142.9,501.0 143.8,500.0"/>
<path class="w" d="M128.8,508.1 L153.1,490.6 L166.2,498.1 L145.0,521.2 L124.4,511.2Z"/>
<path class="p" d="M139.4,513.1 C139.2,512.2 138.4,512.6 140.5,510.0 C142.6,507.4 149.7,499.7 152.0,497.5 C154.3,495.3 153.7,496.6 154.5,496.6 C155.3,496.6 156.5,497.1 157.0,497.6 C157.5,498.1 159.6,496.8 157.5,499.6 C155.4,502.4 147.2,511.9 144.5,514.6 C141.8,517.3 142.3,515.9 141.5,515.6 C140.7,515.4 139.6,514.0 139.4,513.1Z"/>
<path class="p" d="M141.9,506.3 L145.6,508.1 M150,510 L153.1,511.9"/>
<path class="w" d="M124.4,511.2 L145.0,521.2 L144.4,548.8 L136.9,545.6 L123.8,538.1Z"/>
<path class="w" d="M136.9,545.6 L136.2,552.5 L153.1,562.5 L153.1,545.0 L146.2,540.6 L144.5,541.6"/>
<path class="p" d="M144.4,548.75 L151.3,546.3"/>
<ellipse class="p" cx="145.6" cy="552" rx="5" ry="2.8" transform="rotate(25 145.6 552)"/>
<!-- motor2 -->
<path class="w" d="M237.0,536.5 C239.0,535.7 244.6,533.2 248.8,531.9 C252.9,530.6 257.6,529.4 262.0,528.5 C266.4,527.6 268.7,526.2 275.0,526.4 C281.3,526.6 293.3,528.5 300.0,529.5 C306.7,530.5 311.8,531.6 315.0,532.5 C318.2,533.4 318.6,533.8 319.5,535.0 C320.4,536.2 320.1,534.0 320.3,540.0 C320.5,546.0 320.7,565.0 320.6,571.0 C320.5,577.0 320.5,574.6 319.8,576.0 C319.1,577.4 319.0,577.9 316.5,579.3 C314.0,580.7 306.9,583.6 305.0,584.5"/>
<path class="p" d="M296,539 L316,533 M270,527.2 L262,532.5 L249,535"/>
<path class="w" d="M236,537 C245,535.5 270,536.5 293,538.3 C300,539 303.5,542 303.8,548 L305,580 C305,586 302,589 297,588 L275,583.75 L253.75,577.5 L238,572.5 C233.5,571 232,568.5 232,564 L231.9,541.5 C231.9,538.5 233.5,537.3 236,537Z"/>
<path class="p" d="M237.5,539 C246,537.6 270,538.6 292,540.4 C298.5,541 301.3,543.5 301.6,548.5 L302.7,579.5 C302.7,584.5 300.5,586.6 296.5,585.8 L275,581.5 L254,575.4 L239.5,570.6 C235.5,569.3 234.2,567.5 234.2,563.5 L234.1,543 C234.1,540.3 235.3,539.3 237.5,539Z"/>
<path class="p" d="M241.2,551.2 L257.5,552.5 L257.5,560.0 L241.2,558.8Z"/>
<ellipse class="w" cx="279.4" cy="562.2" rx="16.9" ry="17.8"/>
<ellipse class="p" cx="276" cy="563.2" rx="13.2" ry="14.6"/>
<ellipse class="p" cx="272.5" cy="564.6" rx="9.8" ry="11.2"/>
<ellipse class="w" cx="269" cy="565.8" rx="6.6" ry="7.8"/>
<ellipse class="w" cx="266.3" cy="566.8" rx="4" ry="4.8"/>
<path class="w" d="M264.8,563.3 L246.5,572.3 L248.5,577.3 L266.8,570.3Z"/>
<circle class="w" cx="241.7" cy="577.7" r="6"/>
<!-- screw7 -->
<path class="w" d="M361.5,519.5 L390.0,506.5 L394.0,508.3 L393.0,512.0 L364.0,526.5"/>
<path class="p" style="stroke-width:1.45" d="M366,517.5 L369,524 M369.6,515.8 L372.6,522.3 M373.2,514.2 L376.2,520.7 M376.8,512.5 L379.8,519 M380.4,510.9 L383.4,517.4 M384,509.2 L387,515.7 M387.6,507.6 L390.6,514"/>
<ellipse class="w" cx="356" cy="526.5" rx="7.6" ry="9.4" transform="rotate(-15 356 526.5)"/>
<ellipse class="w" cx="351.8" cy="527" rx="7.8" ry="9.6" transform="rotate(-15 351.8 527)"/>
<ellipse class="p" cx="351" cy="527" rx="3" ry="3.8" transform="rotate(-15 351 527)"/>
<!-- bulb9 -->
<path class="w" d="M574,486.5 L588,480.5 C594,479.3 600,484 601,491.5 C601.6,497 599,500.2 595,501.6 L583,505.8Z"/>
<path class="p" d="M577.0,485.3 C578.1,486.1 582.1,488.1 583.5,490.0 C584.9,491.9 585.1,494.5 585.3,497.0 C585.5,499.5 584.6,503.7 584.5,505.0"/>
<path class="p" d="M579.3,484.3 C580.4,485.2 584.6,487.5 586.0,489.5 C587.4,491.5 587.6,494.1 587.8,496.5 C588.0,498.9 587.1,502.8 587.0,504.0"/>
<path class="w" d="M574.0,486.5 C571.7,486.8 564.0,487.3 560.0,488.2 C556.0,489.1 552.7,490.0 550.0,491.8 C547.3,493.6 545.1,496.3 544.0,499.0 C542.9,501.7 542.6,505.2 543.3,508.0 C544.0,510.8 545.5,513.9 548.0,516.0 C550.5,518.1 555.0,520.0 558.0,520.5 C561.0,521.0 563.2,520.4 566.0,519.0 C568.8,517.6 572.2,514.2 575.0,512.0 C577.8,509.8 581.7,506.8 583.0,505.8"/>
<path class="p" d="M574.0,486.5 C575.0,487.2 578.5,488.8 580.0,490.5 C581.5,492.2 582.5,494.4 583.0,497.0 C583.5,499.6 583.0,504.3 583.0,505.8"/>
<path class="p" d="M558,502.5 L562,502.5 L575.5,497 M562,502.5 L563.5,507.5"/>
<path class="p" d="M571.0,494.0 C571.7,493.6 573.5,491.2 575.0,491.5 C576.5,491.8 579.2,494.4 580.0,496.0 C580.8,497.6 580.4,499.8 580.0,501.0 C579.6,502.2 577.9,503.1 577.5,503.5"/>
<!-- socket10 -->
<path class="w" d="M654.5,450.5 C655.4,450.0 658.1,448.1 660.0,447.5 C661.9,446.9 664.1,446.4 665.8,446.6 C667.4,446.8 668.9,447.6 670.0,448.5 C671.1,449.4 671.5,449.9 672.5,451.9 C673.5,453.9 675.3,459.1 675.9,460.5 L680.4,462 L662,471.5 L656,474"/>
<path class="p" d="M661,466 L677,461 M662,469 L672.5,465.5"/>
<path class="p" d="M662.5,455.0 L666.0,452.3 L669.0,455.5 L665.5,458.3Z"/>
<path class="p" d="M664,455 L667.5,456"/>
<ellipse class="w" cx="643.8" cy="470.3" rx="19.7" ry="24" transform="rotate(-8 643.8 470.3)"/>
<ellipse class="w" cx="639.3" cy="470.3" rx="19.7" ry="24" transform="rotate(-8 639.3 470.3)"/>
<ellipse class="p" cx="643.5" cy="471.5" rx="13.8" ry="18.5" transform="rotate(-8 643.5 471.5)"/>
<path class="p" d="M633.0,463.0 C633.5,461.7 634.5,456.9 636.0,455.0 C637.5,453.1 641.0,452.1 642.0,451.5"/>
<path class="p" d="M636.0,480.0 C636.8,481.1 639.0,485.5 641.0,486.5 C643.0,487.5 646.8,486.1 648.0,486.0"/>
<path class="p" d="M636.5,477.0 C637.2,477.8 639.2,481.2 641.0,482.0 C642.8,482.8 646.0,481.6 647.0,481.5"/>
<path class="p" d="M620.5,467 L627,465 L628,469.5 L621.5,471.5 M651,466 L657,469.5 L656,476 L650.5,473"/>
<!-- cable1 -->
<path class="w" d="M478.8,596.3 L543.8,632.5 L536.3,640 L471.3,603.8Z"/>
<ellipse class="w" cx="540" cy="636.6" rx="2.8" ry="5" transform="rotate(29 540 636.6)"/>
<path class="p" d="M465.0,597.5 C465.5,597.9 466.9,599.0 468.0,600.0 C469.1,601.0 470.8,603.2 471.3,603.8"/>
<path class="p" d="M470.0,591.0 C470.7,591.3 472.5,592.1 474.0,593.0 C475.5,593.9 478.0,595.8 478.8,596.3"/>
<path class="p" d="M543.1,636.2 C544.5,636.1 548.2,635.2 551.2,635.6 C554.3,636.0 559.6,638.2 561.2,638.8"/>
<path class="p" d="M541.2,640.6 C542.1,641.9 544.3,645.8 546.2,648.1 C548.2,650.4 552.0,653.4 553.1,654.4"/>
<path class="p" d="M561.2,638.8 C560.3,639.8 556.9,642.5 555.6,645.0 C554.3,647.5 553.6,651.1 553.5,653.8 C553.4,656.4 554.3,659.0 555.0,660.6 C555.7,662.2 556.5,662.4 557.5,663.1 C558.5,663.8 560.6,664.7 561.2,665.0"/>
<path class="p" d="M561.2,638.8 C562.1,638.5 564.8,637.6 566.2,637.5 C567.7,637.4 569.4,638.0 570.0,638.1"/>
<path class="p" d="M570.0,638.1 C569.0,639.5 565.2,643.2 563.8,646.2 C562.3,649.3 561.4,652.9 561.2,656.2 C561.1,659.6 562.1,663.6 563.1,666.2 C564.1,668.9 566.8,671.0 567.5,671.9"/>
<path class="p" d="M570.0,638.1 C571.7,638.4 577.1,638.8 580.0,640.0 C582.9,641.2 585.5,643.7 587.5,645.6 C589.5,647.5 591.1,649.9 591.9,651.2 C592.7,652.6 592.4,653.3 592.5,653.8"/>
<path class="p" d="M585.0,643.1 C583.3,644.0 577.6,646.1 575.0,648.8 C572.4,651.4 570.4,655.4 569.4,658.8 C568.4,662.1 568.0,666.0 568.8,668.8 C569.5,671.5 572.9,674.0 573.8,675.0"/>
<path class="p" d="M567.5,671.9 C568.5,672.5 571.7,675.1 573.8,675.6 C575.8,676.1 578.5,675.3 580.0,674.8 C581.5,674.2 582.1,672.9 582.5,672.5"/>
<path class="p" d="M579.4,650.0 C578.4,651.4 574.0,655.0 573.1,658.1 C572.2,661.2 573.6,667.0 573.8,668.8"/>
<path class="p" d="M579.4,650.0 C580.3,649.9 582.6,648.6 585.0,649.4 C587.4,650.2 592.3,654.1 593.8,655.0"/>
<path class="p" d="M573.8,668.8 C574.8,669.6 577.6,672.4 580.0,673.8 C582.4,675.1 586.8,676.4 588.1,676.9"/>
<ellipse class="w" cx="593.1" cy="666.25" rx="6" ry="11.5" transform="rotate(29 593.1 666.25)"/>
<!-- cable2 -->
<path class="w" d="M378.8,660.3 L441.8,697.8 L437.3,704.5 L373.5,668.5 C373.5,665 375.5,662.5 378.8,660.3Z"/>
<ellipse class="w" cx="440.2" cy="701.4" rx="2.8" ry="4.6" transform="rotate(29 440.2 701.4)"/>
<path class="p" d="M443.5,701.0 C444.9,701.6 448.7,703.0 452.0,704.5 C455.3,706.0 461.6,708.9 463.5,709.8"/>
<path class="p" d="M441.8,705.3 C442.7,706.2 445.1,709.2 447.0,711.0 C448.9,712.8 452.0,715.3 453.0,716.2"/>
<!-- g21 -->
<path class="w" d="M474.0,712.3 C475.2,712.3 478.8,711.7 481.0,712.2 C483.2,712.7 486.0,715.0 487.0,715.5"/>
<path class="w" d="M473.0,720.5 C473.8,721.4 475.8,724.6 477.5,726.0 C479.2,727.4 482.5,728.5 483.5,729.0"/>
<ellipse class="w" cx="474.5" cy="716.5" rx="2.6" ry="4.2" transform="rotate(25 474.5 716.5)"/>
<ellipse class="w" cx="478" cy="719" rx="3.2" ry="6" transform="rotate(25 478 719)"/>
<ellipse class="w" cx="480.8" cy="720.5" rx="3.6" ry="6.6" transform="rotate(25 480.8 720.5)"/>
<ellipse class="w" cx="484.6" cy="722" rx="4.9" ry="7.3" transform="rotate(25 484.6 722)"/>
<ellipse class="p" cx="484.9" cy="722.2" rx="1.6" ry="2.7" transform="rotate(25 484.9 722.2)"/>
<!-- t22 -->
<path class="p" style="stroke-width:1.45" d="M498.5,731.5 L504,733 L499.5,737 L498,738 L503,738.5 M499,731 L507,733 L509,734.5 M503,734.5 L506,738 L509.5,736 M508,735 L513,733 L519,735.5 L523,738.5 L524,741 M510.5,738 L514,736 L518,738 L521,741.5 L517,744 L512,743.5 L508,742 L511,740 M516,740.5 L520,743 L524,744.5 L527,742.5 L530.5,744 L530,746.5 L527,748 L524.5,746 L523,747.5 M509,741 L507.5,743.5 L513,745.5 L519,746 M513,738.5 L519,742.5 M521,744 L525.5,741.5"/>
<!-- bulb17 -->
<path class="w" d="M610.5,677.2 L611.5,674.4 L615.3,672.5 L620.5,675.5 L616.5,680.0Z"/>
<path class="p" d="M612.6,673.8 L617.6,676.8 M611,675.8 L616,678.8"/>
<path class="w" d="M606.3,678.0 L608.0,676.9 L615.5,680.5 L613.8,685.8 L607.2,681.8Z"/>
<rect class="w" x="-13" y="-6.3" width="26" height="12.6" rx="6.3" ry="6.3" transform="translate(626.2,686.2) rotate(23.6)"/>
<path class="p" d="M618.2,676.8 C617.7,677.5 615.6,679.5 615.2,681.0 C614.8,682.5 615.4,684.2 615.8,685.5 C616.1,686.8 617.0,688.2 617.3,688.8"/>
<path class="p" d="M619.4,682.5 L626.9,686.9 L630.8,686.6 M626.9,686.9 L627.2,690.2"/>
<path class="p" d="M621.9,679.7 C621.4,680.0 619.5,680.5 618.8,681.2 C618.0,682.0 617.6,683.5 617.6,684.4 C617.6,685.3 618.6,686.1 618.8,686.4"/>
<!-- lamp16 -->
<path class="w" d="M640.0,706.0 C640.3,704.3 640.9,698.7 642.0,696.0 C643.1,693.3 646.2,691.5 646.5,690.0 C646.8,688.5 643.5,687.8 643.5,687.0 C643.5,686.2 643.8,684.7 646.5,685.5 C649.2,686.3 657.8,690.9 660.0,692.0"/>
<path class="p" d="M628.5,727.5 L631.5,733.5 M630.5,726 L631.5,731"/>
<g transform="translate(669.3,710.5) rotate(-33)">
<rect class="w" x="-43" y="-19" width="86" height="38" rx="19" ry="19"/>
<rect class="p" x="-38.5" y="-16.2" width="80" height="33.2" rx="16.6" ry="16.6"/>
<rect class="p" x="-32.5" y="-12" width="72.5" height="26" rx="13" ry="13"/>
<path class="p" style="stroke-width:0.9;stroke:#262626" d="M-26.8,-9.2 H-19.5 M27.0,-9.2 H34.3 M-29.2,-6.7 H-15.1 M22.6,-6.7 H36.7 M-30.6,-4.2 H-10.7 M18.2,-4.2 H38.1 M-31.4,-1.7 H-6.3 M13.8,-1.7 H38.9 M-31.7,0.8 H-1.9 M9.4,0.8 H39.2 M-31.5,3.3 H-5.6 M13.1,3.3 H39.0 M-30.8,5.8 H-10.0 M17.5,5.8 H38.3 M-29.5,8.3 H-14.4 M21.9,8.3 H37.0 M-27.2,10.8 H-18.8 M26.3,10.8 H34.7"/>
</g>
</g>
<!-- DASH-DOT AXES -->
<g id="axes">
<path class="a" d="M327.4,143.5 L288.3,159.7 V297.5 L269.3,306.3" style="stroke-dasharray:12.9 3 9.5 3 48 3.5 14.3 3.5 300"/>
<path class="a" d="M507.6,186 L382.5,240 V312.5 L367.5,320" style="stroke-dasharray:42.9 3.7 8.4 3.7 49.8 3.7 6.1 3.7 40.6 3.4 14.6 3.4 100"/>
<path class="a" d="M596.9,177.6 L655.4,153.6" style="stroke-dasharray:31.5 2.5 6 2.5 40"/>
<path class="a" d="M523.8,336.3 L498,345.6 M487,350 L481,352.6 M470,357 L444,368"/>
<path class="a" d="M593.0,349.0 L576.0,356.2 M572.0,357.9 L566.0,360.4 M563.0,361.7 L496.0,389.9 M483.0,395.4 L465.0,403.0"/>
<path class="a" d="M520,380 V424 M520,428 V439 M520,443 V486 M520,490 V500 M520,505 V520 L540,513"/>
<path class="a" d="M628,314 L650,305.6 M652,304.8 L666,299"/>
<path class="a" d="M194.2,477 V503.3 M194.2,517.3 V522.5 M194.2,536.5 V561.9 M194.2,575 V581 M194.2,584.6 V596.9 L231.3,582"/>
<path class="l" d="M603.8,484.5 L637.5,471.3"/>
<path class="l" d="M135.3,168 L140.5,165.3 L175,172.8 M150.3,166.8 L156.7,163.5"/>
</g>

</svg>
</body></html>
